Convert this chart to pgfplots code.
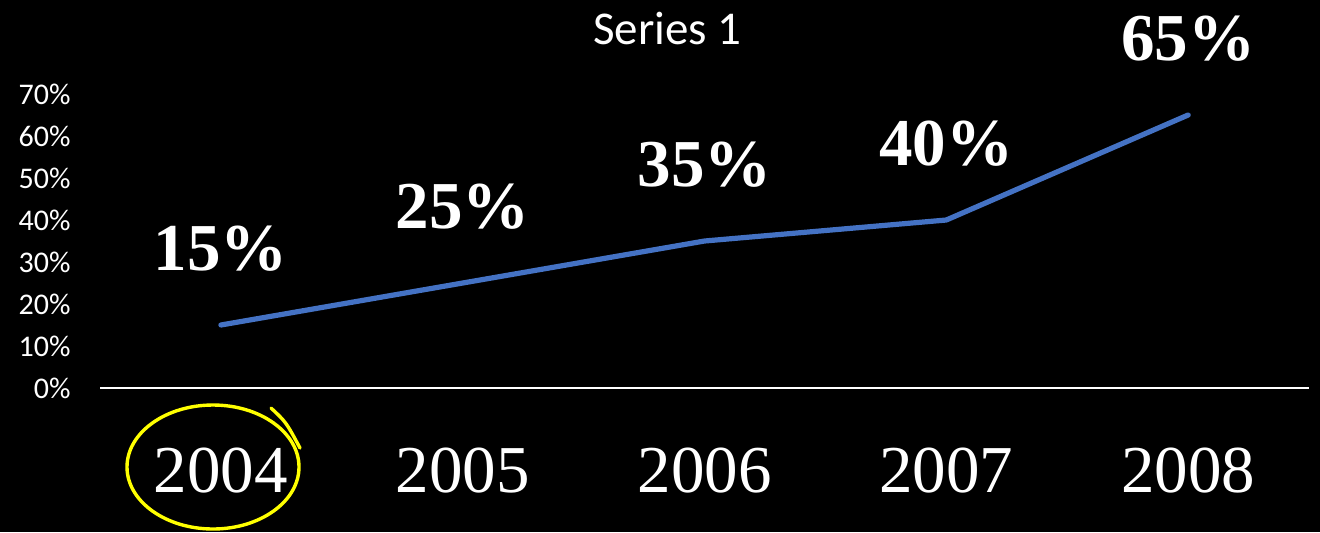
\documentclass[border=0pt]{standalone}
\usepackage{fontspec}
\setmainfont{Liberation Serif}
\newfontfamily\carlito{Carlito}
\usepackage{pgfplots}
\pgfplotsset{compat=1.18}
\definecolor{lineblue}{HTML}{4472C4}
\definecolor{penyellow}{HTML}{FFFF00}

\begin{document}
\begin{tikzpicture}
% black slide background, 1pt = 2px of the reference
\fill[black] (-50pt,-72pt) rectangle (610pt,194pt);
\begin{axis}[
    at={(0,0)}, anchor=south west,
    scale only axis, width=604.5pt, height=147pt,
    xmin=-0.5, xmax=4.5, ymin=0, ymax=70,
    axis line style={draw=none},
    major tick length=0pt,
    xtick={0,1,2,3,4},
    xticklabels={2004,2005,2006,2007,2008},
    ytick={0,10,20,30,40,50,60,70},
    yticklabels={0\%,10\%,20\%,30\%,40\%,50\%,60\%,70\%},
    xticklabel style={font=\fontsize{33.5}{33.5}\selectfont, text=white, inner sep=0pt, yshift=-30pt},
    yticklabel style={font=\carlito\fontsize{15}{15}\selectfont, text=white, inner sep=0pt, xshift=-14.5pt},
    clip=false,
    nodes near coords={\pgfmathprintnumber[assume math mode=true]{\pgfplotspointmeta}\%},
    every node near coord/.append style={font=\bfseries\fontsize{33.5}{33.5}\selectfont, text=white, inner sep=0pt, yshift=25.5pt},
  ]
  \addplot[lineblue, line width=2.6pt, line cap=round, line join=round, mark=none]
    coordinates {(0,15) (1,25) (2,35) (3,40) (4,65)};
  \draw[white, line width=1.4pt] (rel axis cs:0,0) -- (rel axis cs:1,0);
\end{axis}
\node[anchor=base, text=white, font=\carlito\fontsize{23.5}{23.5}\selectfont] at (283.75pt,172pt) {Series 1};
% hand-drawn circle round 2004
\draw[penyellow, line width=1.7pt] (56.5pt,-39.5pt) ellipse [x radius=43pt, y radius=31pt];
\draw[penyellow, line width=1.7pt, line cap=round] (85.5pt,-10pt) .. controls (93pt,-17pt) .. (100pt,-30pt);
\pgfresetboundingbox
\path[use as bounding box] (-50pt,-72pt) rectangle (610pt,194pt);
\end{tikzpicture}
\end{document}
